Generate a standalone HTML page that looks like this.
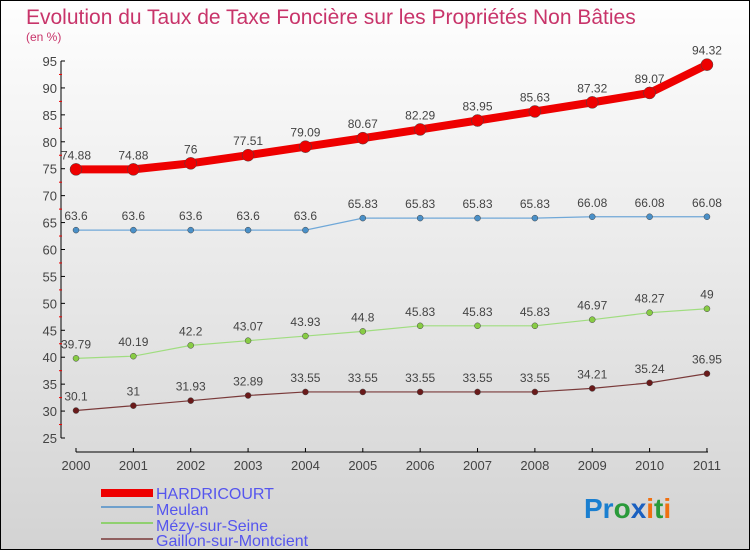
<!DOCTYPE html>
<html><head><meta charset="utf-8"><style>
body{margin:0}
#c{width:750px;height:550px;position:relative;box-sizing:border-box;border:1px solid #000;background:linear-gradient(#fefefe,#d3d3d3);overflow:hidden;font-family:"Liberation Sans",sans-serif}
</style></head><body>
<div id="c">
<svg width="748" height="548" style="position:absolute;left:0;top:0">
<text x="25" y="23" font-size="21" fill="#c8346a">Evolution du Taux de Taxe Foncière sur les Propriétés Non Bâties</text>
<text x="25" y="40" font-size="12" fill="#c8346a">(en %)</text>
<g id="axes"></g><g id="series"></g>
<g>
<rect x="100" y="488" width="52" height="8" fill="#e00"/>
<text x="155" y="498" font-size="16" fill="#5555ee">HARDRICOURT</text>
<line x1="100" y1="506" x2="152" y2="506" stroke="#6fa0cc" stroke-width="2"/>
<text x="155" y="514" font-size="16" fill="#5555ee">Meulan</text>
<line x1="100" y1="522" x2="152" y2="522" stroke="#90d070" stroke-width="2"/>
<text x="155" y="530" font-size="16" fill="#5555ee">Mézy-sur-Seine</text>
<line x1="100" y1="538" x2="152" y2="538" stroke="#906060" stroke-width="2"/>
<text x="155" y="545" font-size="16" fill="#5555ee">Gaillon-sur-Montcient</text>
</g>
<text x="583" y="517" font-size="28" font-weight="bold"><tspan fill="#1a7fd0">Pr</tspan><tspan fill="#2a9a3a">o</tspan><tspan fill="#1a60c0">x</tspan><tspan fill="#f07010">i</tspan><tspan fill="#2a9a3a">t</tspan><tspan fill="#f07010">i</tspan></text>
</svg>
</div>
<script>
const years=["2000","2001","2002","2003","2004","2005","2006","2007","2008","2009","2010","2011"];
const yTicks=[25,30,35,40,45,50,55,60,65,70,75,80,85,90,95];
const hardricourt=[74.88,74.88,76,77.51,79.09,80.67,82.29,83.95,85.63,87.32,89.07,94.32];
const meulan=[63.6,63.6,63.6,63.6,63.6,65.83,65.83,65.83,65.83,66.08,66.08,66.08];
const mezy=[39.79,40.19,42.2,43.07,43.93,44.8,45.83,45.83,45.83,46.97,48.27,49];
const gaillon=[30.1,31,31.93,32.89,33.55,33.55,33.55,33.55,33.55,34.21,35.24,36.95];
const NS="http://www.w3.org/2000/svg";
const xs=i=>75+i*57.36;
const ys=v=>437-(v-25)*(377/70);
function mk(t,a,p){const e=document.createElementNS(NS,t);for(const k in a)e.setAttribute(k,a[k]);p.appendChild(e);return e;}
const ax=document.getElementById('axes');
let yl=mk('line',{x1:60,y1:ys(95),x2:60,y2:ys(25),stroke:'#000'},ax);


yTicks.forEach(v=>{
 mk('line',{x1:60,y1:ys(v),x2:64,y2:ys(v),stroke:'#000'},ax);
 if(v<95)mk('line',{x1:58,y1:ys(v+2.5),x2:61,y2:ys(v+2.5),stroke:'#e00'},ax);
 const t=mk('text',{x:56,y:ys(v)+5,'font-size':13,fill:'#444','text-anchor':'end'},ax);
 
 
 t.textContent=v;
});
let xl=mk('line',{x1:75,y1:451,x2:707,y2:451,stroke:'#000'},ax);


years.forEach((y,i)=>{
 mk('line',{x1:xs(i),y1:447,x2:xs(i),y2:451,stroke:'#000'},ax);
 const t=mk('text',{x:xs(i),y:469,'font-size':13,fill:'#444','text-anchor':'middle'},ax);
 
 
 t.textContent=y;
});
const sg=document.getElementById('series');
function series(data,name,color,w,r,dot){
 const g=mk('g',{},sg);
 
 
 const l=mk('polyline',{points:data.map((v,i)=>xs(i)+','+ys(v)).join(' '),fill:'none',stroke:color,'stroke-width':w,'stroke-linejoin':'round'},g);
 
 
 data.forEach((v,i)=>{
  const c=mk('circle',{cx:xs(i),cy:ys(v),r:r,fill:dot,stroke:'#444','stroke-width':0.5},g);
  
  
  const t=mk('text',{x:xs(i),y:ys(v)-10,'font-size':12,fill:'#444','text-anchor':'middle'},g);
  
  
  t.textContent=String(v);
 });
}
series(gaillon,'gaillon','#7a3a3a',1.2,3,'#6a1a1a');
series(mezy,'mezy','#a0dd80',1.2,3,'#88cc44');
series(meulan,'meulan','#70a8d8',1.2,3,'#4a90c8');
series(hardricourt,'hardricourt','#ee0000',8,6,'#ee0000');
</script>
</body></html>
